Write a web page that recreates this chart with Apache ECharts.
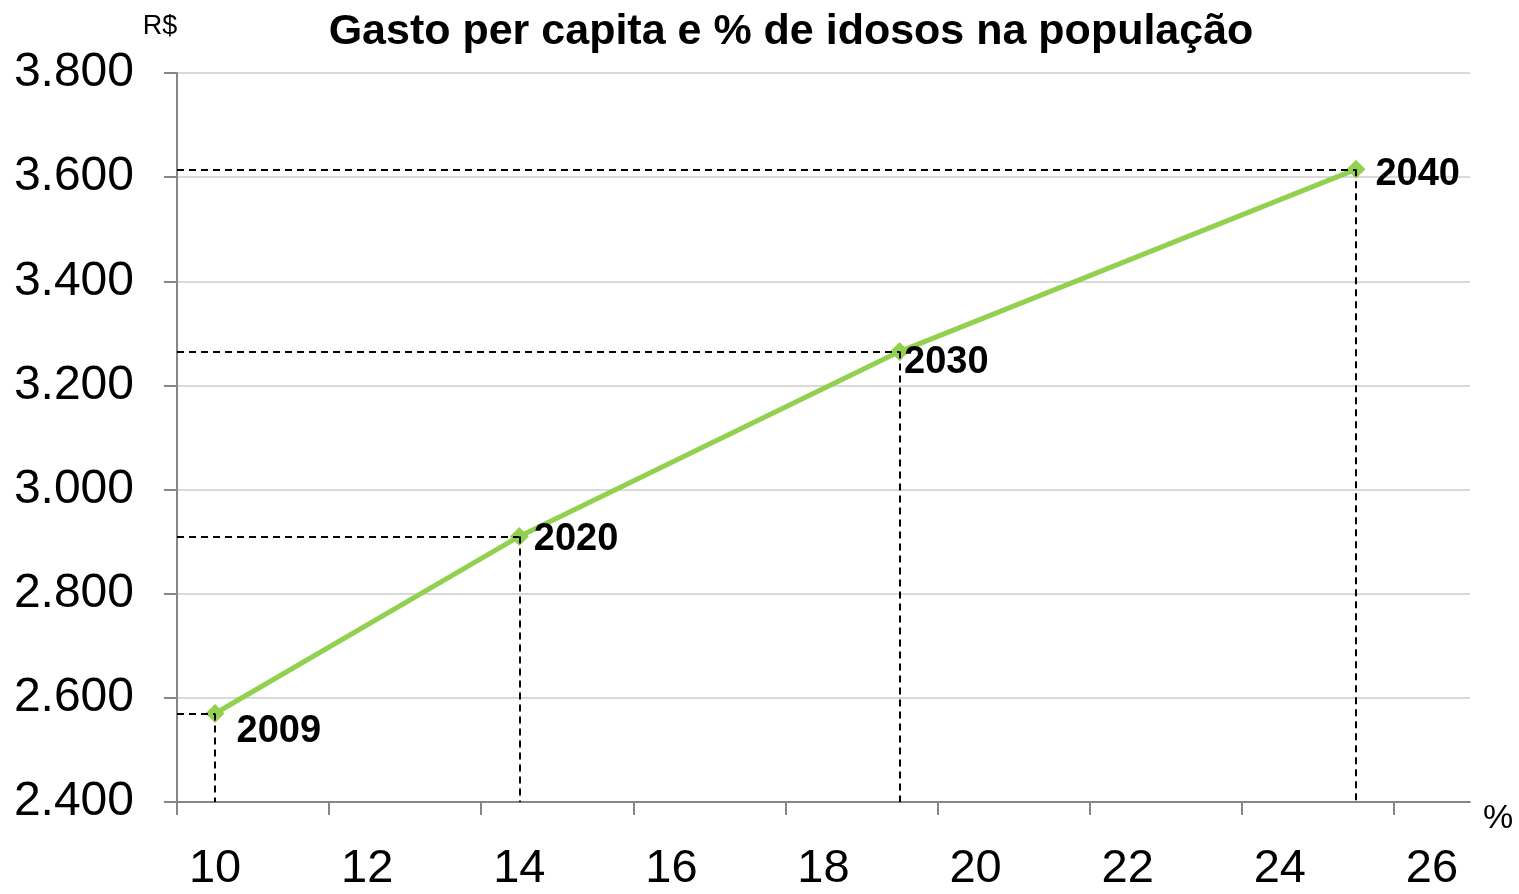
<!DOCTYPE html>
<html>
<head>
<meta charset="utf-8">
<title>Gasto per capita e % de idosos na população</title>
<script src="https://cdn.jsdelivr.net/npm/echarts@6/dist/echarts.min.js"></script>
<style>
  html, body { margin: 0; padding: 0; background: #fff; }
  #chart { width: 1519px; height: 894px; }
</style>
</head>
<body>
<div id="chart"></div>
<script>
// dados
var anos = ['2009', '2020', '2030', '2040'];
var idosos = [10.0, 14.0, 19.0, 25.0];          // % de idosos na população
var gasto = [2570, 2910, 3265, 3615];           // gasto per capita (R$)
var xTicks = [9.5, 11.5, 13.5, 15.5, 17.5, 19.5, 21.5, 23.5, 25.5];
var xLabels = [10, 12, 14, 16, 18, 20, 22, 24, 26];

var X_MIN = 9.5, X_MAX = 26.5, Y_MIN = 2400, Y_MAX = 3800;

// deslocamento dos rótulos dos anos
var labelOffsets = [[7, 18], [0, 3], [-10, 11], [5, 5]];

function fmtMilhar(v) {
    return String(v).replace(/\B(?=(\d{3})+(?!\d))/g, '.');
}

var pontos = idosos.map(function (x, i) {
    return {
        value: [x, gasto[i]],
        label: { offset: labelOffsets[i] }
    };
});

// linhas tracejadas até os eixos
var guias = [];
idosos.forEach(function (x, i) {
    guias.push([{ coord: [X_MIN, gasto[i]] }, { coord: [x, gasto[i]] }]);
    guias.push([{ coord: [x, gasto[i]] }, { coord: [x, Y_MIN] }]);
});

var chart = echarts.init(document.getElementById('chart'));
chart.setOption({
    animation: false,
    textStyle: { fontFamily: 'Liberation Sans, Arial, sans-serif' },
    title: {
        text: 'Gasto per capita e % de idosos na população',
        left: 786,
        textAlign: 'center',
        top: 6,
        textStyle: { fontSize: 43, fontWeight: 'bold', color: '#000' }
    },
    grid: { left: 177, right: 49, top: 73, bottom: 92 },
    xAxis: {
        type: 'value',
        min: X_MIN,
        max: X_MAX,
        name: '%',
        nameLocation: 'end',
        nameGap: 13,
        nameTextStyle: { fontSize: 34, color: '#000', verticalAlign: 'top' },
        axisLine: { show: true, onZero: false, lineStyle: { color: '#868686', width: 2 } },
        axisTick: { show: true, customValues: xTicks, length: 13, lineStyle: { color: '#868686', width: 2 } },
        axisLabel: { customValues: xLabels, fontSize: 47, color: '#000', margin: 44 },
        splitLine: { show: false }
    },
    yAxis: {
        type: 'value',
        min: Y_MIN,
        max: Y_MAX,
        interval: 200,
        name: 'R$',
        nameLocation: 'end',
        nameGap: 33,
        nameTextStyle: { fontSize: 27, color: '#000', padding: [0, 34, 0, 0] },
        axisLine: { show: true, lineStyle: { color: '#868686', width: 2 } },
        axisTick: { show: true, length: 13, lineStyle: { color: '#868686', width: 2 } },
        axisLabel: { fontSize: 48, color: '#000', margin: 43, formatter: fmtMilhar },
        splitLine: { show: true, lineStyle: { color: '#d9d9d9', width: 2 } }
    },
    series: [{
        type: 'line',
        data: pontos,
        symbol: 'diamond',
        symbolSize: 19,
        lineStyle: { color: '#92D050', width: 5 },
        itemStyle: { color: '#92D050' },
        label: {
            show: true,
            position: 'right',
            formatter: function (p) { return anos[p.dataIndex]; },
            fontSize: 38,
            fontWeight: 'bold',
            color: '#000'
        },
        markLine: {
            silent: true,
            symbol: 'none',
            label: { show: false },
            lineStyle: { color: '#000', width: 2, type: [7, 5] },
            data: guias
        },
        z: 3
    }]
});
</script>
</body>
</html>
